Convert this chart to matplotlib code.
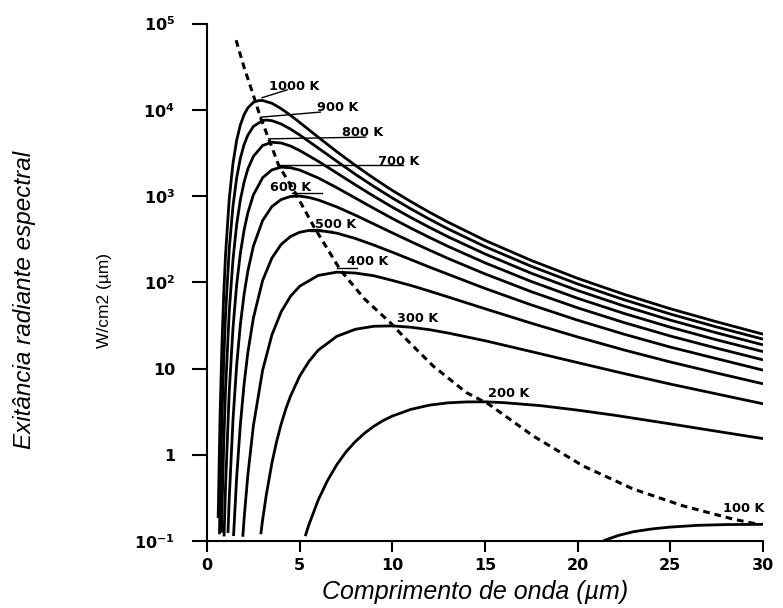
import matplotlib
matplotlib.use("Agg")
import matplotlib.pyplot as plt
from matplotlib.ticker import NullLocator

plt.rcParams['mathtext.fontset'] = 'dejavusans'

# spectral radiant exitance (wavelength in um)
wl_1000 = [0.6, 0.7, 0.8, 0.9, 1.0, 1.2, 1.4, 1.6, 1.8, 2.0, 2.2, 2.5, 2.8, 3.0, 3.5, 4.0, 4.5, 5.0, 6.0, 7.0, 8.0, 9.0, 10, 11, 12, 13, 15, 17.5, 20, 22.5, 25, 27.5, 30]
m_1000 = [0.185, 2.64, 17.7, 72, 211, 933, 2390, 4440, 6690, 8790, 10500, 12200, 12800, 12800, 11900, 10300, 8640, 7130, 4810, 3270, 2270, 1606, 1160, 861, 649, 498, 306, 179, 111, 72.5, 49.3, 34.8, 25.0]

wl_900 = [0.67, 0.7, 0.8, 0.9, 1.0, 1.2, 1.4, 1.6, 1.8, 2.0, 2.2, 2.5, 3.0, 3.2, 3.5, 4.0, 4.5, 5.0, 6.0, 7.0, 8.0, 9.0, 10, 11, 12, 13, 15, 17.5, 20, 22.5, 25, 27.5, 30]
m_900 = [0.12, 0.268, 2.40, 12.2, 42.7, 247, 763, 1630, 2750, 3950, 5070, 6410, 7500, 7600, 7480, 6840, 5980, 5100, 3600, 2530, 1790, 1291, 948, 709, 539, 416, 259, 153, 95.5, 62.7, 42.8, 30.3, 21.9]

wl_800 = [0.78, 0.8, 0.9, 1.0, 1.2, 1.4, 1.6, 1.8, 2.0, 2.2, 2.5, 3.0, 3.5, 4.0, 4.5, 5.0, 6.0, 7.0, 8.0, 9.0, 10, 11, 12, 13, 15, 17.5, 20, 22.5, 25, 27.5, 30]
m_800 = [0.125, 0.197, 1.33, 5.79, 46.5, 183, 469, 906, 1450, 2050, 2880, 3850, 4200, 4120, 3800, 3370, 2530, 1850, 1350, 994, 742, 563, 433, 337, 213, 127, 80.2, 53.0, 36.4, 25.9, 18.8]

wl_700 = [0.92, 1.0, 1.2, 1.4, 1.6, 1.8, 2.0, 2.2, 2.5, 3.0, 3.5, 4.0, 4.5, 5.0, 6.0, 7.0, 8.0, 9.0, 10, 11, 12, 13, 15, 17.5, 20, 22.5, 25, 27.5, 30]
m_700 = [0.113, 0.443, 5.48, 29.3, 94.1, 218, 402, 636, 1030, 1630, 2010, 2160, 2130, 2000, 1620, 1250, 948, 719, 549, 424, 331, 261, 168, 102, 65.1, 43.5, 30.1, 21.5, 15.7]

wl_600 = [1.13, 1.2, 1.4, 1.6, 1.8, 2.0, 2.2, 2.5, 3.0, 3.5, 4.0, 4.5, 5.0, 5.5, 6.0, 7.0, 8.0, 9.0, 10, 11, 12, 13, 15, 17.5, 20, 22.5, 25, 27.5, 30]
m_600 = [0.124, 0.316, 2.53, 11.0, 32.5, 72.6, 134, 262, 520, 755, 910, 988, 998, 962, 901, 748, 600, 474, 374, 296, 236, 189, 125, 77.7, 50.5, 34.1, 23.8, 17.2, 12.6]

wl_500 = [1.43, 1.6, 1.8, 2.0, 2.2, 2.5, 3.0, 3.5, 4.0, 4.5, 5.0, 5.5, 6.0, 7.0, 8.0, 9.0, 10, 11, 12, 13, 15, 17.5, 20, 22.5, 25, 27.5, 30]
m_500 = [0.114, 0.552, 2.26, 6.59, 15.2, 38.4, 105, 191, 275, 339, 380, 399, 401, 371, 322, 270, 223, 183, 150, 124, 84.8, 54.6, 36.3, 25.0, 17.7, 13.0, 9.57]

wl_400 = [1.93, 2.0, 2.2, 2.5, 3.0, 3.5, 4.0, 4.5, 5.0, 6.0, 7.0, 8.0, 9.0, 10, 11, 12, 13, 15, 17.5, 20, 22.5, 25, 27.5, 30]
m_400 = [0.112, 0.181, 0.576, 2.16, 9.56, 24.5, 45.4, 68.6, 90.0, 120, 131, 128, 119, 105, 91.8, 79, 67.6, 49.3, 33.5, 23.2, 16.4, 11.9, 8.86, 6.65]

wl_300 = [2.9, 3.0, 3.2, 3.5, 3.75, 4.0, 4.25, 4.5, 5.0, 5.5, 6.0, 7.0, 8.0, 9.0, 10, 11, 12, 13, 15, 17.5, 20, 22.5, 25, 27.5, 30]
m_300 = [0.12, 0.176, 0.345, 0.80, 1.41, 2.27, 3.39, 4.76, 8.17, 12.1, 16.3, 23.6, 28.5, 30.9, 31.2, 30.1, 28.2, 25.8, 21.0, 15.7, 11.7, 8.74, 6.6, 5.07, 3.9]

wl_200 = [5.3, 5.5, 6.0, 6.5, 7.0, 7.5, 8.0, 8.5, 9.0, 9.5, 10, 11, 12, 13, 14, 15, 16, 18, 20, 22, 25, 28, 30]
m_200 = [0.114, 0.155, 0.299, 0.502, 0.766, 1.08, 1.42, 1.78, 2.14, 2.49, 2.81, 3.36, 3.76, 4.00, 4.10, 4.11, 4.02, 3.71, 3.29, 2.87, 2.28, 1.80, 1.54]

wl_100 = [21.4, 22.2, 23.0, 24.0, 25.0, 26.5, 28.0, 30.0]
m_100 = [0.101, 0.116, 0.128, 0.138, 0.145, 0.152, 0.155, 0.156]

# dashed line through the peaks
wien_wl = [1.57, 2.0, 2.52, 2.88, 3.33, 3.87, 4.77, 5.76, 7.19, 8.5, 9.89, 10.6, 12.2, 14.0, 15.2, 17.6, 20.3, 23.0, 25.7, 28.4, 29.75]
wien_m = [6.4e4, 3.1e4, 1.43e4, 8.2e3, 4.6e3, 2.26e3, 1.08e3, 443, 139, 64, 34, 23.5, 10.7, 5.25, 3.86, 1.65, 0.74, 0.40, 0.255, 0.179, 0.156]

# curve labels and leader lines
labels = ['1000 K', '900 K', '800 K', '700 K', '600 K', '500 K', '400 K', '300 K', '200 K', '100 K']
label_x = [3.33, 5.94, 7.29, 9.23, 3.4, 5.83, 7.54, 10.24, 15.18, 27.86]
label_y = [1.71e4, 9.6e3, 4.9e3, 2.3e3, 1.13e3, 428, 159, 35, 4.72, 0.219]

lead_x0 = [2.97, 2.88, 3.33, 3.87, 4.57, 5.56, 7.0]
lead_y0 = [1.38e4, 8.2e3, 4.6e3, 2.26e3, 1.08e3, 398, 146]
lead_x1 = [4.32, 6.11, 8.54, 10.6, 6.19, 6.73, 8.08]
lead_y1 = [1.7e4, 9.4e3, 4.82e3, 2.26e3, 1.08e3, 398, 146]

yticks = [0.1, 1, 10, 100, 1e3, 1e4, 1e5]
ytick_labels = [r'$\mathbf{10^{-1}}$', '1', '10', r'$\mathbf{10^{2}}$',
                r'$\mathbf{10^{3}}$', r'$\mathbf{10^{4}}$', r'$\mathbf{10^{5}}$']
xticks = [0, 5, 10, 15, 20, 25, 30]

curves = [(wl_1000, m_1000), (wl_900, m_900), (wl_800, m_800), (wl_700, m_700),
          (wl_600, m_600), (wl_500, m_500), (wl_400, m_400), (wl_300, m_300),
          (wl_200, m_200), (wl_100, m_100)]

fig = plt.figure(figsize=(7.83, 6.08), dpi=100)
ax = fig.add_axes([0.2644, 0.1102, 0.7101, 0.8511])

for wl, m in curves:
    ax.plot(wl, m, color='black', lw=2.0, solid_capstyle='butt', solid_joinstyle='round')

ax.plot(wien_wl, wien_m, color='black', lw=2.2, linestyle=(0, (2.2, 1.6)))

for x0, y0, x1, y1 in zip(lead_x0, lead_y0, lead_x1, lead_y1):
    ax.plot([x0, x1], [y0, y1], color='black', lw=1.0)

for txt, x, y in zip(labels, label_x, label_y):
    ax.text(x, y, txt, fontsize=9.3, fontweight='bold', family='DejaVu Sans',
            ha='left', va='baseline')

ax.set_yscale('log')
ax.set_ylim(0.1, 1e5)
ax.set_xlim(0, 30)
ax.set_yticks(yticks)
ax.set_yticklabels(ytick_labels)
ax.yaxis.set_minor_locator(NullLocator())
ax.set_xticks(xticks)
ax.set_xticklabels([str(t) for t in xticks])

for side in ['top', 'right']:
    ax.spines[side].set_visible(False)
for side in ['left', 'bottom']:
    ax.spines[side].set_linewidth(1.5)

ax.tick_params(axis='y', length=11, width=1.5, pad=12)
ax.tick_params(axis='x', length=8, width=1.5, pad=4)
for lab in ax.get_xticklabels() + ax.get_yticklabels():
    lab.set_fontweight('bold')
    lab.set_fontsize(11.5)
    lab.set_family('DejaVu Sans')

fig.text(105 / 783, 1 - 300 / 608, 'W/cm2 (µm)', rotation=90, ha='center', va='center',
         fontsize=12.5, family='Liberation Sans')
fig.text(25 / 783, 1 - 300 / 608, 'Exitância radiante espectral', rotation=90,
         ha='center', va='center', fontsize=17.5, style='italic', family='Liberation Sans')
fig.text(475 / 783, 1 - 592 / 608, 'Comprimento de onda (µm)', ha='center', va='center',
         fontsize=18, style='italic', family='Liberation Sans')

fig.savefig('out.png', dpi=100)
